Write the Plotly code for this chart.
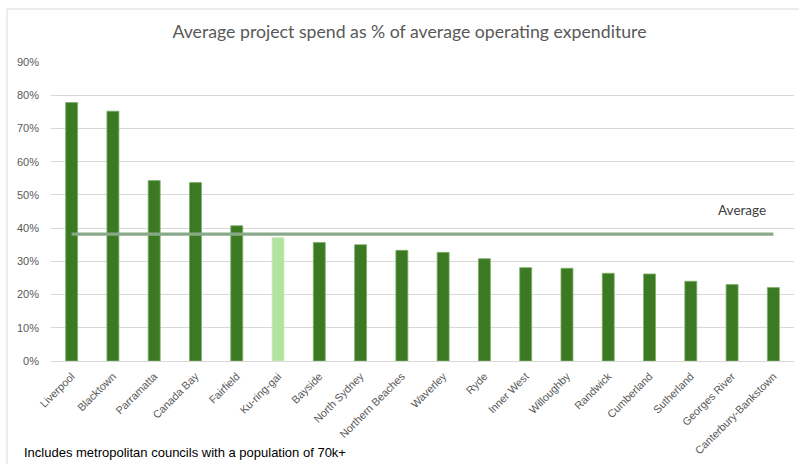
import plotly.graph_objects as go

councils = ["Liverpool", "Blacktown", "Parramatta", "Canada Bay", "Fairfield", "Ku-ring-gai",
            "Bayside", "North Sydney", "Northern Beaches", "Waverley", "Ryde", "Inner West",
            "Willoughby", "Randwick", "Cumberland", "Sutherland", "Georges River",
            "Canterbury-Bankstown"]
spend_pct = [0.778, 0.752, 0.543, 0.537, 0.407, 0.372, 0.357, 0.350, 0.333, 0.327, 0.308,
             0.281, 0.279, 0.264, 0.262, 0.240, 0.230, 0.221]
average_pct = 0.382
highlight = "Ku-ring-gai"
y_ticks = [0, 0.1, 0.2, 0.3, 0.4, 0.5, 0.6, 0.7, 0.8, 0.9]

DARK = "#3b7a23"
LIGHT = "#b3e3a0"
colors = [LIGHT if c == highlight else DARK for c in councils]
edges = ["#cfeec4" if c == highlight else "#7fae6a" for c in councils]

fig = go.Figure()
fig.add_trace(go.Bar(x=councils, y=spend_pct, marker=dict(color=colors, line=dict(color=edges, width=0.8)),
                     showlegend=False, hoverinfo="x+y"))
fig.add_trace(go.Scatter(x=councils, y=[average_pct] * len(councils), mode="lines",
                         line=dict(color="#8aa98a", width=3.2), showlegend=False))

L, R, T, B = 51, 5, 62, 103
W, H = 799, 464
pw, ph = W - L - R, H - T - B

def px(x):
    return (x - L) / pw

def py(y):
    return (H - B - y) / ph

fig.update_layout(
    width=W, height=H,
    margin=dict(l=L, r=R, t=T, b=B),
    paper_bgcolor="white", plot_bgcolor="white",
    bargap=0.71,
    title=dict(text="Average project spend as % of average operating expenditure",
               x=(409.5) / W, xanchor="center", y=1 - 32 / H, yanchor="middle",
               font=dict(family="Lato", size=17.7, color="#595959")),
    font=dict(family="Liberation Sans"),
    xaxis=dict(tickangle=-45, tickfont=dict(family="Liberation Sans", size=10.8, color="#595959"),
               showgrid=False, showline=False, ticks="", fixedrange=True,
               ticklabelstandoff=6),
    yaxis=dict(range=[0, 0.9], tickvals=y_ticks, tickformat=".0%",
               tickfont=dict(family="Liberation Sans", size=11, color="#595959"),
               showgrid=True, gridcolor="#d9d9d9", gridwidth=1, zeroline=True,
               zerolinecolor="#d9d9d9", zerolinewidth=1, ticks="", ticklabelstandoff=11,
               fixedrange=True),
    annotations=[
        dict(text="Average", x=px(742), y=py(210), xref="paper", yref="paper",
             showarrow=False, xanchor="center", yanchor="middle",
             font=dict(family="Lato", size=13.5, color="#404040")),
        dict(text="Includes metropolitan councils with a population of 70k+",
             x=px(22), y=py(452), xref="paper", yref="paper", showarrow=False,
             xanchor="left", yanchor="middle",
             font=dict(family="Liberation Sans", size=13, color="#000000")),
    ],
    shapes=[
        dict(type="line", xref="paper", yref="paper", x0=px(7), x1=px(7), y0=py(9), y1=py(470),
             line=dict(color="#d9d9d9", width=1)),
        dict(type="line", xref="paper", yref="paper", x0=px(7), x1=px(805), y0=py(9), y1=py(9),
             line=dict(color="#d9d9d9", width=1)),
    ],
)

fig.write_html("out.html")
